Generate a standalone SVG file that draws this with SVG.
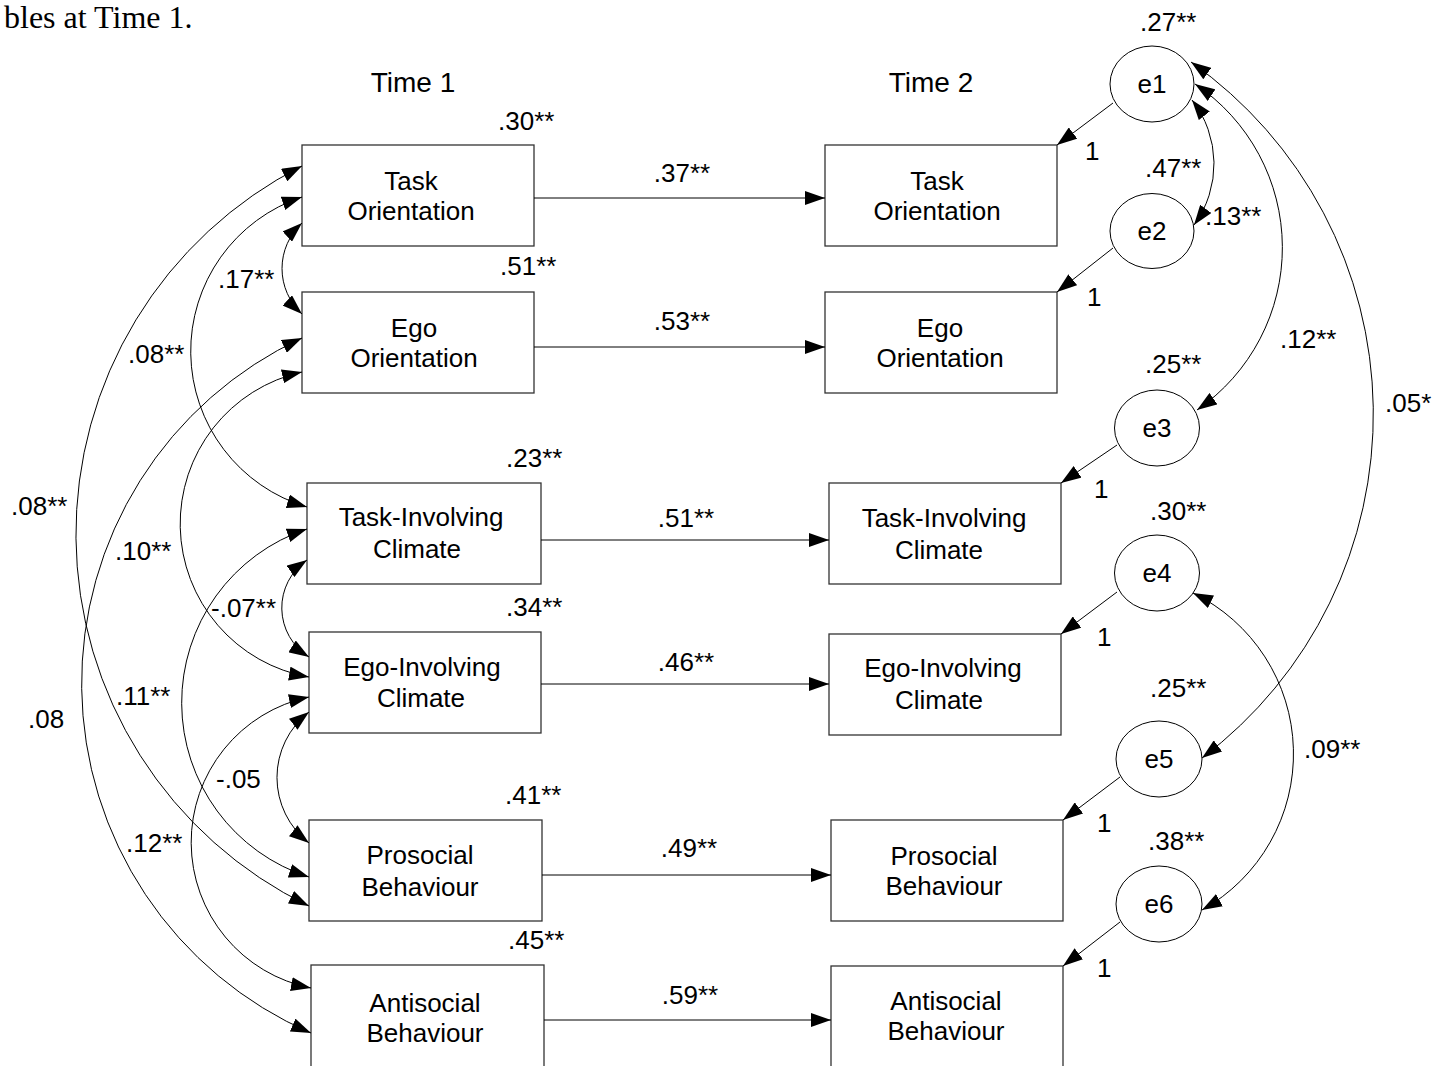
<svg xmlns="http://www.w3.org/2000/svg" width="1439" height="1066" viewBox="0 0 1439 1066">
<defs>
<marker id="ah" viewBox="0 0 20 14" markerUnits="userSpaceOnUse" markerWidth="20" markerHeight="14" refX="20" refY="7" orient="auto-start-reverse"><path d="M0,0 L20,7 L0,14 Z" fill="#000"/></marker>
</defs>
<style>
.box{fill:#fff;stroke:#333;stroke-width:1.3}
.ell{fill:#fff;stroke:#000;stroke-width:1}
.t{font-family:"Liberation Sans",Arial,sans-serif;font-size:26px;fill:#000}
.c{text-anchor:middle}
.ln{fill:none;stroke:#000;stroke-width:1}
.one{marker-end:url(#ah)}
.two{marker-start:url(#ah);marker-end:url(#ah)}
</style>
<rect x="0" y="0" width="1439" height="1066" fill="#fff"/>
<text x="4" y="28" font-family="'Liberation Serif','Times New Roman',serif" font-size="32">bles at Time 1.</text>
<text class="t c" x="413" y="92" style="font-size:28px">Time 1</text>
<text class="t c" x="931" y="92" style="font-size:28px">Time 2</text>

<g id="t1-task-orientation">
<rect class="box" x="302" y="145" width="232" height="101"/>
<text class="t c" x="411" y="190">Task</text>
<text class="t c" x="411" y="220">Orientation</text>
<text class="t" x="498" y="130">.30**</text>
</g>
<g id="t1-ego-orientation">
<rect class="box" x="302" y="292" width="232" height="101"/>
<text class="t c" x="414" y="337">Ego</text>
<text class="t c" x="414" y="367">Orientation</text>
<text class="t" x="500" y="275">.51**</text>
</g>
<g id="t1-task-involving">
<rect class="box" x="307" y="483" width="234" height="101"/>
<text class="t c" x="421" y="526">Task-Involving</text>
<text class="t c" x="417" y="558">Climate</text>
<text class="t" x="506" y="467">.23**</text>
</g>
<g id="t1-ego-involving">
<rect class="box" x="309" y="632" width="232" height="101"/>
<text class="t c" x="422" y="676">Ego-Involving</text>
<text class="t c" x="421" y="707">Climate</text>
<text class="t" x="506" y="616">.34**</text>
</g>
<g id="t1-prosocial">
<rect class="box" x="309" y="820" width="233" height="101"/>
<text class="t c" x="420" y="864">Prosocial</text>
<text class="t c" x="420" y="896">Behaviour</text>
<text class="t" x="505" y="804">.41**</text>
</g>
<g id="t1-antisocial">
<rect class="box" x="311" y="965" width="233" height="130"/>
<text class="t c" x="425" y="1012">Antisocial</text>
<text class="t c" x="425" y="1042">Behaviour</text>
<text class="t" x="508" y="949">.45**</text>
</g>

<g id="t2-task-orientation">
<rect class="box" x="825" y="145" width="232" height="101"/>
<text class="t c" x="937" y="190">Task</text>
<text class="t c" x="937" y="220">Orientation</text>
</g>
<g id="t2-ego-orientation">
<rect class="box" x="825" y="292" width="232" height="101"/>
<text class="t c" x="940" y="337">Ego</text>
<text class="t c" x="940" y="367">Orientation</text>
</g>
<g id="t2-task-involving">
<rect class="box" x="829" y="483" width="232" height="101"/>
<text class="t c" x="944" y="527">Task-Involving</text>
<text class="t c" x="939" y="559">Climate</text>
</g>
<g id="t2-ego-involving">
<rect class="box" x="829" y="634" width="232" height="101"/>
<text class="t c" x="943" y="677">Ego-Involving</text>
<text class="t c" x="939" y="709">Climate</text>
</g>
<g id="t2-prosocial">
<rect class="box" x="831" y="820" width="232" height="101"/>
<text class="t c" x="944" y="865">Prosocial</text>
<text class="t c" x="944" y="895">Behaviour</text>
</g>
<g id="t2-antisocial">
<rect class="box" x="831" y="966" width="232" height="130"/>
<text class="t c" x="946" y="1010">Antisocial</text>
<text class="t c" x="946" y="1040">Behaviour</text>
</g>

<g id="e1"><ellipse class="ell" cx="1152" cy="84" rx="42" ry="38"/><text class="t c" x="1152" y="93">e1</text><text class="t" x="1140" y="31">.27**</text></g>
<g id="e2"><ellipse class="ell" cx="1152" cy="231" rx="42" ry="37.5"/><text class="t c" x="1152" y="240">e2</text><text class="t" x="1145" y="177">.47**</text></g>
<g id="e3"><ellipse class="ell" cx="1157" cy="428" rx="42.5" ry="38"/><text class="t c" x="1157" y="437">e3</text><text class="t" x="1145" y="373">.25**</text></g>
<g id="e4"><ellipse class="ell" cx="1157" cy="573" rx="42.5" ry="38"/><text class="t c" x="1157" y="582">e4</text><text class="t" x="1150" y="520">.30**</text></g>
<g id="e5"><ellipse class="ell" cx="1159" cy="759" rx="43" ry="38"/><text class="t c" x="1159" y="768">e5</text><text class="t" x="1150" y="697">.25**</text></g>
<g id="e6"><ellipse class="ell" cx="1159" cy="904" rx="43" ry="38"/><text class="t c" x="1159" y="913">e6</text><text class="t" x="1148" y="850">.38**</text></g>

<g id="connectors">
<path class="ln one" d="M534 198 H825"/>
<path class="ln one" d="M534 347 H825"/>
<path class="ln one" d="M541 540 H829"/>
<path class="ln one" d="M541 684 H829"/>
<path class="ln one" d="M542 875 H831"/>
<path class="ln one" d="M544 1020 H831"/>
<path class="ln one" d="M1113 103 L1057 145"/>
<path class="ln one" d="M1113 248 L1057 292"/>
<path class="ln one" d="M1117 445 L1061 483"/>
<path class="ln one" d="M1117 592 L1061 634"/>
<path class="ln one" d="M1120 777 L1063 820"/>
<path class="ln one" d="M1120 922 L1063 966"/>
<path class="ln two" d="M302 223 A61.8 61.8 0 0 0 302 314"/>
<path class="ln two" d="M302 197 A162.5 162.5 0 0 0 307 507"/>
<path class="ln two" d="M302 166 A413 413 0 0 0 309 906"/>
<path class="ln two" d="M302 372 A155.5 155.5 0 0 0 309 677"/>
<path class="ln two" d="M302 338 A381 381 0 0 0 311 1033"/>
<path class="ln two" d="M307 560 A58 58 0 0 0 309 657"/>
<path class="ln two" d="M307 529 A183 183 0 0 0 309 877"/>
<path class="ln two" d="M309 712 A83 83 0 0 0 309 843"/>
<path class="ln two" d="M309 697 A148.5 148.5 0 0 0 311 988"/>
<path class="ln two" d="M1192 100 A103.5 103.5 0 0 1 1194 225"/>
<path class="ln two" d="M1195 84 A197 197 0 0 1 1197 410"/>
<path class="ln two" d="M1191 62 A431 431 0 0 1 1202 758"/>
<path class="ln two" d="M1193 593 A179 179 0 0 1 1202 910"/>
</g>

<g id="labels">
<text class="t c" x="682" y="182">.37**</text>
<text class="t c" x="682" y="330">.53**</text>
<text class="t c" x="686" y="527">.51**</text>
<text class="t c" x="686" y="671">.46**</text>
<text class="t c" x="689" y="857">.49**</text>
<text class="t c" x="690" y="1004">.59**</text>
<text class="t" x="218" y="288">.17**</text>
<text class="t" x="128" y="363">.08**</text>
<text class="t" x="11" y="515">.08**</text>
<text class="t" x="115" y="560">.10**</text>
<text class="t" x="28" y="728">.08</text>
<text class="t" x="211" y="617">-.07**</text>
<text class="t" x="116" y="705">.11**</text>
<text class="t" x="216" y="788">-.05</text>
<text class="t" x="126" y="852">.12**</text>
<text class="t" x="1205" y="225">.13**</text>
<text class="t" x="1280" y="348">.12**</text>
<text class="t" x="1385" y="412">.05*</text>
<text class="t" x="1304" y="758">.09**</text>
<text class="t" x="1085" y="160">1</text>
<text class="t" x="1087" y="306">1</text>
<text class="t" x="1094" y="498">1</text>
<text class="t" x="1097" y="646">1</text>
<text class="t" x="1097" y="832">1</text>
<text class="t" x="1097" y="977">1</text>
</g>
</svg>
